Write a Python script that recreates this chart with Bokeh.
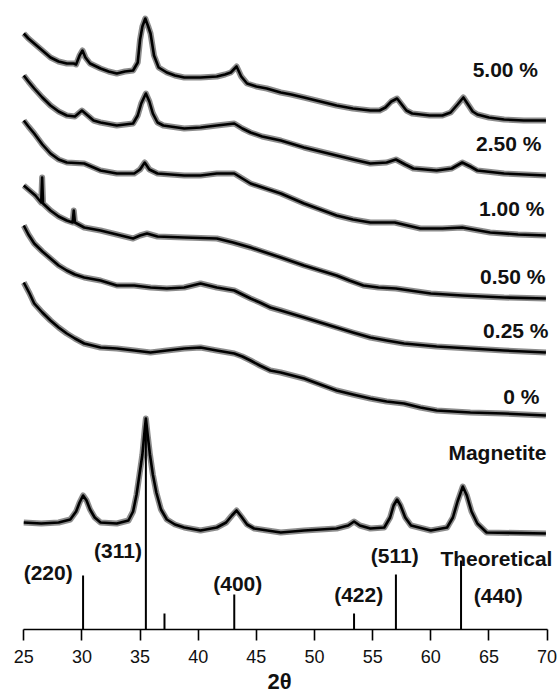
from bokeh.plotting import figure
from bokeh.models import Range1d, FixedTicker
from bokeh.core.properties import value
from bokeh.embed import file_html
from bokeh.resources import INLINE

# Diffraction patterns (2-theta in degrees, stacked intensity in a.u.)
tt_500 = [25.0, 25.4, 25.9, 26.6, 27.3, 28.0, 28.7, 29.3, 29.5, 29.8, 30.05, 30.3, 30.7, 31.6,
          32.3, 33.0, 33.7, 34.4, 34.8, 35.0, 35.2, 35.45, 35.7, 35.9, 36.2, 36.6, 37.3, 38.0,
          38.8, 40.2, 41.6, 42.3, 42.8, 43.3, 43.7, 44.2, 45.0, 45.9, 47.1, 48.0, 49.1, 50.5,
          51.9, 53.3, 54.8, 55.6, 56.1, 56.6, 57.1, 57.5, 57.9, 58.4, 59.9, 61.0, 61.7, 62.3,
          62.8, 63.2, 63.6, 64.0, 65.0, 66.3, 68.0, 69.9]
i_500 = [596, 591, 586, 579, 572, 568, 566, 566, 565, 574, 579, 572, 566, 561,
         558, 556, 558, 559, 567, 590, 603, 611, 603, 596, 574, 562, 557, 554,
         552, 552, 553, 555, 557, 563, 553, 546, 543, 541, 537, 535, 532, 528,
         524, 521, 519, 519, 522, 528, 531, 525, 519, 516, 514, 514, 517, 525,
         532, 525, 518, 515, 512, 510, 509, 509]

tt_250 = [25.0, 25.4, 25.9, 26.6, 27.3, 28.0, 28.7, 29.4, 30.0, 30.5, 31.0, 31.6, 33.0, 34.4,
          34.8, 35.1, 35.5, 35.8, 36.1, 36.5, 37.0, 38.8, 40.2, 41.6, 43.1, 43.8, 44.5, 45.5,
          47.1, 49.1, 50.5, 51.9, 53.3, 54.8, 56.2, 57.0, 57.8, 58.5, 60.5, 61.8, 62.7, 63.4,
          64.0, 66.3, 69.9]
i_250 = [554, 548, 541, 532, 524, 518, 514, 513, 519, 514, 509, 507, 504, 506,
         514, 526, 536, 528, 516, 507, 504, 501, 502, 504, 506, 501, 497, 493,
         489, 482, 478, 474, 470, 466, 467, 470, 465, 461, 459, 461, 467, 463,
         459, 456, 454]

tt_100 = [25.0, 25.4, 25.9, 26.6, 27.3, 28.0, 28.7, 30.2, 31.6, 33.0, 34.5, 35.0, 35.4, 35.8,
          36.5, 38.8, 40.2, 41.6, 43.1, 43.8, 44.5, 45.8, 47.1, 49.1, 50.5, 51.9, 53.3, 54.8,
          56.9, 59.1, 61.0, 62.7, 65.1, 67.5, 69.9]
i_100 = [509, 503, 496, 485, 476, 470, 467, 466, 459, 456, 456, 460, 467, 460,
         456, 454, 454, 456, 456, 451, 446, 441, 436, 426, 420, 414, 410, 407,
         407, 401, 401, 402, 397, 395, 394]

tt_050 = [25.0, 25.5, 26.0, 26.5, 26.58, 26.66, 27.3, 28.0, 28.7, 29.2, 29.3, 29.4, 30.2, 31.6,
          33.0, 34.4, 35.0, 35.6, 36.5, 38.8, 41.6, 43.0, 44.5, 45.8, 47.1, 49.1, 50.5, 51.9,
          53.0, 54.2, 55.5, 57.0, 60.0, 62.7, 66.3, 69.9]
i_050 = [444, 439, 434, 427, 452, 426, 419, 413, 409, 407, 419, 407, 402, 399,
         395, 391, 394, 396, 393, 392, 391, 387, 382, 377, 372, 364, 359, 354,
         349, 344, 342, 341, 336, 334, 332, 331]

tt_025 = [25.0, 25.4, 25.9, 26.6, 27.3, 28.0, 28.7, 29.4, 30.2, 31.6, 33.0, 34.5, 35.9, 37.3,
          38.8, 40.2, 41.6, 43.1, 43.8, 44.5, 45.3, 46.2, 47.1, 49.1, 50.5, 51.9, 53.3, 54.8,
          56.2, 57.7, 60.5, 63.4, 66.3, 69.9]
i_025 = [404, 395, 386, 378, 371, 364, 359, 355, 352, 349, 344, 344, 342, 341,
         342, 346, 342, 339, 335, 331, 327, 322, 319, 312, 307, 302, 297, 292,
         289, 286, 283, 281, 279, 277]

tt_000 = [25.0, 25.5, 25.9, 26.6, 27.3, 28.0, 28.7, 29.4, 30.2, 30.9, 31.6, 33.0, 34.5, 35.9,
          37.3, 38.8, 40.2, 41.6, 43.1, 43.8, 44.5, 45.3, 46.2, 47.1, 49.1, 50.5, 51.9, 53.3,
          54.8, 56.2, 57.7, 59.1, 60.5, 63.4, 66.3, 69.9]
i_000 = [347, 336, 326, 317, 309, 302, 296, 291, 286, 284, 282, 281, 279, 277,
         279, 281, 282, 279, 276, 273, 269, 264, 259, 257, 251, 245, 239, 235,
         231, 228, 226, 222, 219, 217, 216, 214]

tt_mag = [25.0, 26.5, 28.0, 29.0, 29.5, 29.8, 30.1, 30.4, 30.7, 31.1, 31.6, 33.0, 34.0, 34.4,
          34.7, 34.95, 35.2, 35.4, 35.5, 35.65, 35.85, 36.1, 36.4, 36.8, 37.3, 38.0, 38.8, 40.2,
          41.6, 42.4, 42.9, 43.3, 43.7, 44.2, 44.8, 47.1, 49.1, 51.9, 52.9, 53.4, 53.9, 54.8,
          56.0, 56.5, 56.8, 57.1, 57.4, 57.8, 58.3, 60.0, 61.4, 61.9, 62.3, 62.75, 63.1, 63.5,
          64.0, 64.8, 69.9]
i_mag = [107, 106, 107, 110, 118, 127, 134, 129, 120, 112, 107, 106, 109, 118,
         135, 155, 175, 200, 211, 195, 175, 155, 137, 120, 110, 105, 102, 99,
         102, 107, 114, 119, 113, 105, 101, 97, 99, 101, 104, 108, 104, 101,
         102, 112, 124, 130, 124, 112, 104, 99, 102, 112, 128, 143, 134, 118,
         106, 97, 96]

# Reference reflections of magnetite
ref_tt = [30.1, 35.5, 37.1, 43.1, 53.4, 57.0, 62.6]
ref_i = [54, 200, 16, 35, 16, 55, 69]
hkl_text = ["(220)", "(311)", "(400)", "(422)", "(511)", "(440)"]
hkl_x = [27.1, 33.1, 43.4, 53.8, 56.9, 65.8]
hkl_y = [57, 79, 46, 35, 74, 34]

series_names = ["5.00 %", "2.50 %", "1.00 %", "0.50 %", "0.25 %", "0 %", "Magnetite"]
name_x = [69.22, 69.51, 69.77, 69.86, 70.12, 69.34, 69.94]
name_y = [560, 486, 421, 353, 299, 233, 177]

x_ticks = [25, 30, 35, 40, 45, 50, 55, 60, 65, 70]

FONT = "Liberation Sans"

p = figure(width=558, height=697, output_backend="svg", toolbar_location=None,
           x_range=Range1d(23.0, 70.98), y_range=Range1d(0, 629),
           y_axis_location=None, min_border_left=0, min_border_right=0,
           min_border_top=0, min_border_bottom=68)
p.outline_line_color = None
p.grid.visible = False
p.background_fill_color = "white"
p.border_fill_color = "white"

patterns = [(tt_500, i_500), (tt_250, i_250), (tt_100, i_100), (tt_050, i_050),
            (tt_025, i_025), (tt_000, i_000), (tt_mag, i_mag)]
for tt, ii in patterns:
    # darker halo gives each trace the width of its counting noise
    p.line(tt, ii, line_color="#1a1a1a", line_alpha=0.5, line_width=6, line_join="round")
    p.line(tt, ii, line_color="#000000", line_width=2.6, line_join="round")

p.segment(x0=ref_tt, y0=[0] * len(ref_tt), x1=ref_tt, y1=ref_i,
          line_color="black", line_width=2)

lab_style = dict(text_font=value(FONT), text_font_style="bold",
                 text_font_size="21px", text_color="#111111", text_baseline="middle")
p.text(x=hkl_x, y=hkl_y, text=hkl_text, text_align="center", **lab_style)
p.text(x=name_x, y=name_y, text=series_names, text_align="right", **lab_style)
p.text(x=[70.46], y=[71], text=["Theoretical"], text_align="right", **lab_style)

ax = p.xaxis[0]
ax.bounds = (25, 70)
ax.ticker = FixedTicker(ticks=x_ticks)
ax.minor_tick_out = 0
ax.minor_tick_in = 0
ax.major_tick_in = 0
ax.major_tick_out = 11
ax.major_tick_line_width = 1.6
ax.axis_line_width = 1.6
ax.axis_line_color = "black"
ax.major_tick_line_color = "black"
ax.major_label_text_font = FONT
ax.major_label_text_font_size = "18px"
ax.major_label_text_color = "#111111"
ax.major_label_standoff = 9
ax.axis_label = "2θ"
ax.axis_label_text_font = FONT
ax.axis_label_text_font_style = "bold"
ax.axis_label_text_font_size = "22px"
ax.axis_label_text_color = "#111111"
ax.axis_label_standoff = 3

open("out.html", "w").write(file_html(p, INLINE))
